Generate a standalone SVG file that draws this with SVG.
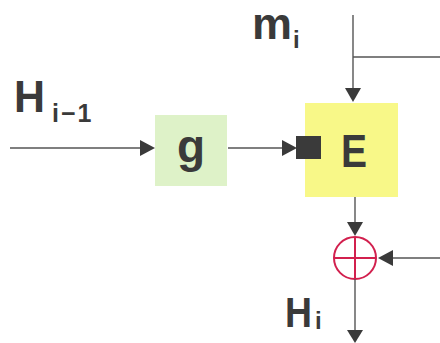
<svg xmlns="http://www.w3.org/2000/svg" width="440" height="343" viewBox="0 0 440 343">
<style>
.t{font-family:"Liberation Sans",Arial,sans-serif;font-weight:bold;fill:#3a3a3a}
.ln{stroke:#555;stroke-width:1.4;fill:none}
.ah{fill:#3a3a3a}
</style>
<rect width="440" height="343" fill="#fff"/>
<g id="g_node">
<rect x="155" y="115" width="72" height="71" fill="#def2c8"/>
<text class="t" x="191" y="162" font-size="46" text-anchor="middle">g</text>
</g>
<g id="e_node">
<rect x="305" y="103" width="93" height="94" fill="#f8f888"/>
<rect x="296" y="136" width="25" height="23" fill="#3a3a3a"/>
<text class="t" x="354" y="167" font-size="47" text-anchor="middle" textLength="26" lengthAdjust="spacingAndGlyphs">E</text>
</g>
<g id="xor_node">
<circle cx="355" cy="258" r="21" fill="none" stroke="#d2204e" stroke-width="2"/>
<line x1="334" y1="258" x2="376" y2="258" stroke="#d2204e" stroke-width="2"/>
<line x1="355" y1="237" x2="355" y2="279" stroke="#d2204e" stroke-width="2"/>
</g>
<g id="labels">
<text class="t" x="14" y="112" font-size="44" textLength="31" lengthAdjust="spacingAndGlyphs">H</text>
<text class="t" x="52" y="122" font-size="25" letter-spacing="2">i−1</text>
<text class="t" x="252" y="39" font-size="44" textLength="40" lengthAdjust="spacingAndGlyphs">m</text>
<text class="t" x="293" y="48" font-size="24">i</text>
<text class="t" x="285" y="327" font-size="42" textLength="27" lengthAdjust="spacingAndGlyphs">H</text>
<text class="t" x="315" y="329" font-size="24">i</text>
</g>
<g id="connectors">
<line class="ln" x1="10" y1="148" x2="142" y2="148"/>
<polygon class="ah" points="140,140 155,148 140,156"/>
<line class="ln" x1="228" y1="148" x2="284" y2="148"/>
<polygon class="ah" points="282,140 297,148 282,156"/>
<line class="ln" x1="353" y1="15" x2="353" y2="90"/>
<line class="ln" x1="353" y1="57" x2="440" y2="57"/>
<polygon class="ah" points="345,88 361,88 353,102"/>
<line class="ln" x1="355" y1="197" x2="355" y2="224"/>
<polygon class="ah" points="347,222 363,222 355,236"/>
<line class="ln" x1="390" y1="258" x2="440" y2="258"/>
<polygon class="ah" points="393,250 393,266 378,258"/>
<line class="ln" x1="355" y1="279" x2="355" y2="332"/>
<polygon class="ah" points="347,330 363,330 355,343"/>
</g>
</svg>
